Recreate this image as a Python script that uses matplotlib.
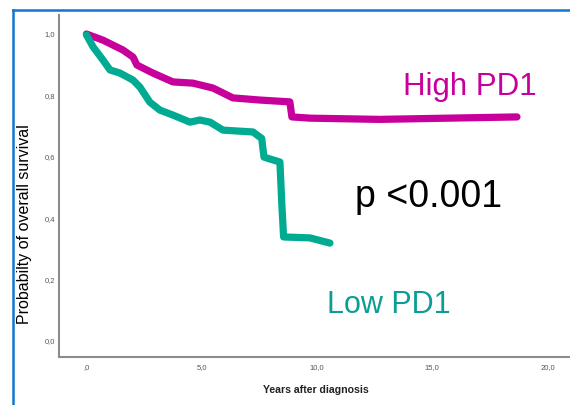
import matplotlib.pyplot as plt
from matplotlib.lines import Line2D

plt.rcParams['font.family'] = ['Liberation Sans', 'DejaVu Sans']

# Curvas (años, probabilidad)
anos_alto = [0.0, 0.72, 1.58, 2.02, 2.19, 2.88, 3.75, 4.62, 5.49, 6.35, 7.52, 8.82, 8.91, 9.69, 12.7, 18.67]
surv_alto = [1.0, 0.98, 0.948, 0.925, 0.899, 0.873, 0.844, 0.840, 0.824, 0.792, 0.785, 0.779, 0.730, 0.726, 0.722, 0.730]

anos_bajo = [0.0, 0.29, 0.72, 1.02, 1.45, 2.02, 2.32, 2.75, 3.19, 3.75, 4.49, 4.92, 5.36, 5.92,
             7.22, 7.6, 7.7, 8.39, 8.48, 8.55, 9.69, 10.56]
surv_bajo = [0.997, 0.958, 0.915, 0.883, 0.873, 0.850, 0.827, 0.778, 0.752, 0.736, 0.713, 0.720, 0.713, 0.687,
             0.681, 0.660, 0.599, 0.583, 0.436, 0.339, 0.336, 0.319]

xticks = [0, 5, 10, 15, 20]
xtick_labels = [',0', '5,0', '10,0', '15,0', '20,0']
yticks = [0.0, 0.2, 0.4, 0.6, 0.8, 1.0]
ytick_labels = ['0,0', '0,2', '0,4', '0,6', '0,8', '1,0']

magenta = '#C8009B'
verde = '#00AB92'

fig = plt.figure(figsize=(5.7, 4.05), dpi=100)
ax = fig.add_axes([59 / 570, 1 - 357 / 405, 1 - 59 / 570, (357 - 15) / 405])

ax.plot(anos_alto, surv_alto, color=magenta, lw=5.2, solid_capstyle='round', solid_joinstyle='round')
ax.plot(anos_bajo, surv_bajo, color=verde, lw=5.2, solid_capstyle='round', solid_joinstyle='round')

ax.set_xlim(-1.19, 20.97)
ax.set_ylim(-0.052, 1.062)
ax.set_xticks(xticks)
ax.set_xticklabels(xtick_labels)
ax.set_yticks(yticks)
ax.set_yticklabels(ytick_labels)
ax.tick_params(axis='both', length=0, labelsize=5.5, labelcolor='#555555')
ax.tick_params(axis='x', pad=5)
ax.tick_params(axis='y', pad=3)
for s in ['top', 'right']:
    ax.spines[s].set_visible(False)
for s in ['left', 'bottom']:
    ax.spines[s].set_color('#8c8c8c')
    ax.spines[s].set_linewidth(1.5)

ax.text(13.72, 0.801, 'High PD1', color=magenta, fontsize=22.5, va='baseline')
ax.text(11.64, 0.4365, 'p <0.001', color='black', fontsize=27, va='baseline')
ax.text(10.43, 0.0912, 'Low PD1', color='#0A9E96', fontsize=22, va='baseline')

fig.text(25 / 570, 1 - 224 / 405, 'Probabilty of overall survival', rotation=90,
         fontsize=11.5, ha='center', va='center')
fig.text(316 / 570, 1 - 390 / 405, 'Years after diagnosis', fontsize=7.6,
         fontweight='bold', ha='center', va='center', color='#222222')

# Marco azul
fig.add_artist(Line2D([12.5 / 570, 12.5 / 570], [0, 1 - 10 / 405], color='#1276CF', lw=1.8))
fig.add_artist(Line2D([12.5 / 570, 1], [1 - 10 / 405, 1 - 10 / 405], color='#1276CF', lw=1.8))

fig.savefig('out.png', dpi=100)
